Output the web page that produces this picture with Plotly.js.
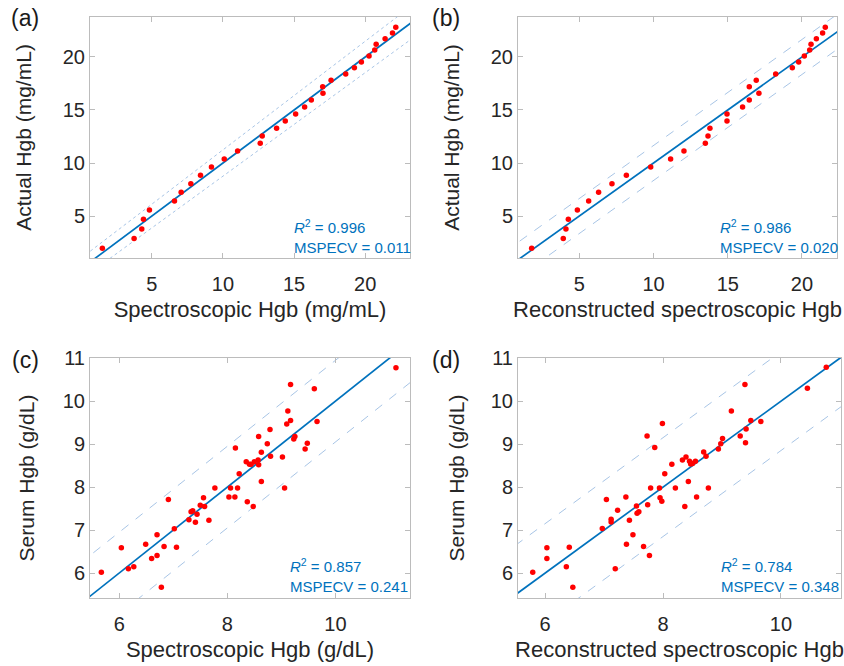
<!DOCTYPE html>
<html><head><meta charset="utf-8">
<script src="https://cdn.plot.ly/plotly-3.0.1.min.js"></script>
<style>html,body{margin:0;padding:0;background:#fff}</style>
</head><body><div id="chart" style="width:844px;height:666px"></div>
<script>
// ---------- data ----------
// panels (a) and (b): actual Hgb (mg/mL), same samples
const actualHgb = [1.95,2.89,3.77,4.69,5.57,6.42,7.23,8.05,8.84,9.62,10.38,11.13,11.86,12.55,13.27,13.96,14.62,15.28,15.94,16.57,17.20,17.80,18.40,18.99,19.53,20.09,20.66,21.19,21.73,22.26,22.80];
const spectroHgbA = [1.52,3.75,4.29,4.41,4.83,6.59,7.06,7.74,8.42,9.19,10.09,11.03,12.62,12.76,13.77,14.38,15.11,15.74,16.21,17.03,17.01,17.60,18.63,19.24,19.73,20.27,20.67,20.77,21.40,21.92,22.15];
const reconHgbB = [1.79,3.92,4.10,4.26,4.87,5.63,6.30,7.20,8.17,9.81,11.15,12.05,13.49,13.67,13.80,14.95,14.95,16.00,16.45,17.10,16.45,16.92,18.23,19.35,19.78,20.16,20.52,20.61,20.97,21.39,21.57];

// panel (c): spectroscopic vs serum Hgb (g/dL)
const spectroHgbC = [5.67,6.04,6.17,6.27,6.49,6.60,6.70,6.70,6.78,6.83,6.91,7.02,7.06,7.29,7.33,7.36,7.41,7.44,7.50,7.56,7.58,7.66,7.77,8.03,8.06,8.14,8.19,8.15,8.22,8.35,8.37,8.41,8.44,8.48,8.50,8.57,8.58,8.58,8.63,8.63,8.74,8.79,8.80,9.02,9.06,9.10,9.12,9.17,9.17,9.23,9.25,9.44,9.48,9.61,9.66,11.12];
const serumHgbC = [6.02,6.59,6.10,6.15,6.67,6.34,6.41,6.89,5.67,6.62,7.71,7.03,6.60,7.24,7.43,7.45,7.18,7.37,7.58,7.75,7.55,7.23,7.98,7.77,7.98,7.77,7.98,8.91,8.31,8.59,7.66,8.53,8.53,7.55,8.59,8.63,9.18,8.52,8.13,8.81,9.01,9.34,8.72,8.70,7.98,9.47,9.77,10.39,9.55,9.12,9.18,8.89,9.02,10.29,9.53,10.78];

// panel (d): reconstructed spectroscopic vs serum Hgb (g/dL)
const reconHgbD = [5.79,6.03,6.03,6.36,6.41,6.47,6.97,7.04,7.12,7.12,7.19,7.23,7.37,7.38,7.43,7.49,7.55,7.56,7.59,7.67,7.73,7.74,7.77,7.79,7.86,7.94,7.95,7.98,7.99,8.03,8.15,8.21,8.33,8.37,8.39,8.43,8.45,8.47,8.50,8.55,8.57,8.69,8.73,8.77,8.94,8.98,9.01,9.16,9.31,9.39,9.40,9.41,9.49,9.66,10.45,10.77];
const serumHgbD = [6.02,6.59,6.34,6.15,6.60,5.67,7.04,7.71,7.25,7.19,6.10,7.46,7.77,6.67,7.23,6.89,7.56,7.39,7.43,6.62,9.19,7.59,6.41,7.98,8.92,7.98,7.75,7.67,9.48,8.31,8.53,7.98,8.63,7.55,8.70,8.13,8.60,8.54,8.55,8.60,7.77,8.82,8.72,7.98,8.89,9.01,9.13,9.77,9.19,10.39,9.03,9.35,9.55,9.53,10.30,10.79];

// identity (y = x) reference line ends, and band offsets [at low end, at high end]
const identMg = [0, 25];
const identG = [5, 12];
const bandA = [1.0, 1.6];
const bandB = [1.65, 1.65];
const bandC = [0.95, 0.95];
const bandD = [1.15, 1.15];

// tick values
const ticksMg = [5, 10, 15, 20];
const ticksGx = [6, 8, 10];
const ticksGy = [6, 7, 8, 9, 10, 11];

// stats text
const statsA = ['0.996', '0.011'];
const statsB = ['0.986', '0.020'];
const statsC = ['0.857', '0.241'];
const statsD = ['0.784', '0.348'];

// ---------- build ----------
const RED = '#ff0000', BLUE = '#0072bd', LIGHT = '#a8c5e6';
const FONT = 'Liberation Sans, Arial, Helvetica, sans-serif';

function panelTraces(xs, ys, ident, band, dash, xa, ya) {
  const up = ident.map((v, i) => v + band[i]);
  const lo = ident.map((v, i) => v - band[i]);
  return [
    {x: ident, y: up, mode: 'lines', line: {color: LIGHT, width: 1, dash: dash}, xaxis: xa, yaxis: ya, hoverinfo: 'skip'},
    {x: ident, y: lo, mode: 'lines', line: {color: LIGHT, width: 1, dash: dash}, xaxis: xa, yaxis: ya, hoverinfo: 'skip'},
    {x: ident, y: ident, mode: 'lines', line: {color: BLUE, width: 1.7}, xaxis: xa, yaxis: ya},
    {x: xs, y: ys, mode: 'markers', marker: {color: RED, size: 5.5}, xaxis: xa, yaxis: ya}
  ];
}

const data = [].concat(
  panelTraces(spectroHgbA, actualHgb, identMg, bandA, 'dot', 'x', 'y'),
  panelTraces(reconHgbB, actualHgb, identMg, bandB, 'dash', 'x2', 'y2'),
  panelTraces(spectroHgbC, serumHgbC, identG, bandC, 'dash', 'x3', 'y3'),
  panelTraces(reconHgbD, serumHgbD, identG, bandD, 'dash', 'x4', 'y4')
);

function ax(extra) {
  return Object.assign({
    showline: true, mirror: 'ticks', linecolor: '#bcbcbc', linewidth: 1,
    ticks: 'inside', ticklen: 5, tickcolor: '#bcbcbc', tickwidth: 1,
    showgrid: false, zeroline: false,
    tickfont: {family: FONT, size: 20, color: '#262626'}
  }, extra);
}
function ttl(t, standoff, size) {
  return {text: t, font: {family: FONT, size: size, color: '#262626'}, standoff: standoff};
}
const W = 844, H = 666;
const dx = (l, r) => [l / W, r / W];
const dy = (t, b) => [1 - b / H, 1 - t / H];

function stats(s, xa, ya, xfrac, yfrac) {
  return {text: '<i>R</i><sup>2</sup> = ' + s[0] + '<br>MSPECV = ' + s[1],
    xref: xa + ' domain', yref: ya + ' domain', x: xfrac, y: yfrac,
    xanchor: 'left', yanchor: 'middle', align: 'left', showarrow: false,
    font: {family: FONT, size: 15, color: BLUE}};
}
function plabel(t, x, y) {
  return {text: t, xref: 'paper', yref: 'paper', x: x / W, y: 1 - y / H,
    xanchor: 'center', yanchor: 'middle', showarrow: false,
    font: {family: FONT, size: 23, color: '#1a1a1a'}};
}

const layout = {
  width: W, height: H, margin: {l: 0, r: 0, t: 0, b: 0},
  paper_bgcolor: '#fff', plot_bgcolor: '#fff', showlegend: false,
  xaxis: ax({domain: dx(90, 410), range: [0.65, 23.15], tickvals: ticksMg, anchor: 'y', ticklabelstandoff: 8, title: ttl('Spectroscopic Hgb (mg/mL)', 7, 22)}),
  yaxis: ax({domain: dy(17, 258), range: [1.04, 23.77], tickvals: ticksMg, anchor: 'x', title: ttl('Actual Hgb (mg/mL)', 25, 21)}),
  xaxis2: ax({domain: dx(518, 837), range: [0.87, 22.36], tickvals: ticksMg, anchor: 'y2', ticklabelstandoff: 8, title: ttl('Reconstructed spectroscopic Hgb', 7, 22)}),
  yaxis2: ax({domain: dy(17, 258), range: [1.04, 23.77], tickvals: ticksMg, anchor: 'x2', title: ttl('Actual Hgb (mg/mL)', 25, 21)}),
  xaxis3: ax({domain: dx(90, 410), range: [5.46, 11.38], tickvals: ticksGx, anchor: 'y3', ticklabelstandoff: 8, title: ttl('Spectroscopic Hgb (g/dL)', 7, 22)}),
  yaxis3: ax({domain: dy(358, 598), range: [5.42, 11.005], tickvals: ticksGy, anchor: 'x3', title: ttl('Serum Hgb (g/dL)', 22, 21)}),
  xaxis4: ax({domain: dx(518, 841), range: [5.54, 11.02], tickvals: ticksGx, anchor: 'y4', ticklabelstandoff: 8, title: ttl('Reconstructed spectroscopic Hgb', 7, 22)}),
  yaxis4: ax({domain: dy(358, 598), range: [5.42, 11.005], tickvals: ticksGy, anchor: 'x4', title: ttl('Serum Hgb (g/dL)', 20, 21)}),
  annotations: [
    stats(statsA, 'x', 'y', 0.63, 0.088),
    stats(statsB, 'x2', 'y2', 0.627, 0.088),
    stats(statsC, 'x3', 'y3', 0.62, 0.094),
    stats(statsD, 'x4', 'y4', 0.622, 0.094),
    plabel('(a)', 25, 18), plabel('(b)', 446, 18),
    plabel('(c)', 25, 360), plabel('(d)', 446, 360)
  ]
};

Plotly.newPlot('chart', data, layout, {displayModeBar: false, staticPlot: true});
</script>
</body></html>
